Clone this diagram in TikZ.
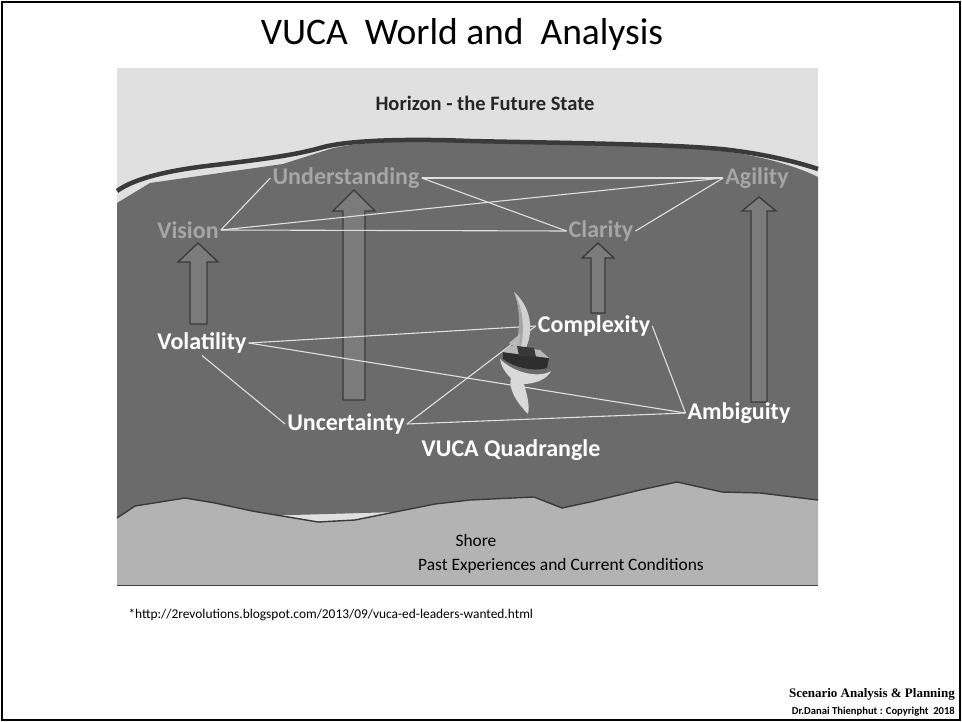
\documentclass[tikz,border=0pt]{standalone}
\usepackage{fontspec}
\setmainfont{Carlito}
\newfontfamily\serifbold[BoldFont={Liberation Serif Bold}]{Liberation Serif}
\usetikzlibrary{calc}
\definecolor{skygrey}{HTML}{E0E0E0}
\definecolor{seagrey}{HTML}{6B6B6B}
\definecolor{shoregrey}{HTML}{B3B3B3}
\definecolor{edgegrey}{HTML}{3A3A3A}
\definecolor{fadedtext}{HTML}{A6A6A6}
\definecolor{arrowfill}{HTML}{7B7B7B}
\begin{document}
\begin{tikzpicture}[x=1pt,y=-1pt,
  goal/.style={font=\bfseries\fontsize{24}{24}\selectfont, text=fadedtext, inner sep=2pt},
  force/.style={font=\bfseries\fontsize{24}{24}\selectfont, text=white, inner sep=2pt},
  link/.style={draw=white!88!black, line width=1.1pt},
  blockarrow/.style={draw=edgegrey, fill=arrowfill, line width=1.3pt, line join=miter},
  caption/.style={font=\fontsize{17.4}{17.4}\selectfont, text=black, inner sep=0pt}]
\useasboundingbox (0,0) rectangle (962,722);
\fill[white] (0,0) rectangle (962,722);
\draw[black, line width=2.5pt] (2,2) rectangle (960,720);

% title
\node[font=\fontsize{37.5}{37.5}\selectfont, anchor=base] (title) at (462,45) {VUCA\ \ World and\ \ Analysis};

% sky
\fill[skygrey] (117,68) rectangle (818,585);
\node[font=\bfseries\fontsize{20.5}{20.5}\selectfont, text=black!85] (horizon) at (485,103) {Horizon - the Future State};

% sea
\fill[seagrey] (117,203) -- (150,183) -- (283,164) -- (330,149)
  .. controls (360,141) and (420,140) .. (470,142)
  .. controls (560,144) and (680,145) .. (730,152)
  .. controls (770,158) and (800,168) .. (818,177)
  -- (818,500) -- (117,520) -- cycle;
% horizon line
\draw[edgegrey, line width=4.5pt] (117,191)
  .. controls (135,178) and (170,170) .. (215,165)
  .. controls (265,159) and (295,155) .. (320,148)
  .. controls (350,139) and (420,139) .. (470,141)
  .. controls (560,143) and (680,144) .. (730,150)
  .. controls (770,155) and (800,163) .. (818,169);

% shore
\fill[shoregrey] (117,518) -- (135,506) -- (185,498) -- (215,503) -- (252,511)
  -- (318,522) -- (355,520) -- (435,504) -- (470,500) -- (534,497) -- (562,508)
  -- (590,502) -- (640,490) -- (677,482) -- (722,492) -- (760,493) -- (818,500)
  -- (818,585) -- (117,585) -- cycle;
\draw[edgegrey, line width=1.4pt] (117,518) -- (135,506) -- (185,498) -- (215,503) -- (252,511)
  -- (318,522) -- (355,520) -- (435,504) -- (470,500) -- (534,497) -- (562,508)
  -- (590,502) -- (640,490) -- (677,482) -- (722,492) -- (760,493) -- (818,500);
\draw[edgegrey, line width=1pt] (117,585) -- (818,585);
\node[caption] (shore) at (476,541) {Shore};
\node[caption] (past) at (561,566) {Past Experiences and Current Conditions};

% upward block arrows
\draw[blockarrow] (198,243) -- (218,262) -- (207,262) -- (207,324) -- (190,324) -- (190,262) -- (178,262) -- cycle;
\draw[blockarrow] (354,190) -- (375,211) -- (365,211) -- (365,400) -- (343,400) -- (343,211) -- (333,211) -- cycle;
\draw[blockarrow] (598,243) -- (614,258) -- (605,258) -- (605,313) -- (591,313) -- (591,258) -- (582,258) -- cycle;
\draw[blockarrow] (759,197) -- (776,211) -- (767,211) -- (767,402) -- (751,402) -- (751,211) -- (742,211) -- cycle;

% goals near the horizon
\node[goal] (und) at (346,178) {Understanding};
\node[goal] (agi) at (757,178) {Agility};
\node[goal] (vis) at (188,230) {Vision};
\node[goal] (cla) at (601,231) {Clarity};

\draw[link] (vis.east) -- (und.west);
\draw[link] (vis.east) -- (agi.west);
\draw[link] (vis.east) -- (cla.west);
\draw[link] (und.east) -- (agi.west);
\draw[link] (und.east) -- (cla.west);
\draw[link] (cla.east) -- (agi.west);

% VUCA forces
\node[force] (vol) at (202,343) {Volatility};
\node[force] (unc) at (346,424) {Uncertainty};
\node[force] (com) at (594,326) {Complexity};
\node[force] (amb) at (739,413) {Ambiguity};
\node[force] (quad) at (511,450) {VUCA Quadrangle};

\draw[link] (vol.east) -- (com.west);
\draw[link] (vol.east) -- (amb.west);
\draw[link] (vol.south) -- (unc.west);
\draw[link] (unc.east) -- (com.west);
\draw[link] (unc.east) -- (amb.west);
\draw[link] (com.east) -- (amb.west);

% sailing boat: wake, sails, hull
\fill[white!85!black] (500,359) .. controls (515,374) and (540,378) .. (551,371)
  .. controls (547,380) and (533,384) .. (524,384)
  .. controls (527,395) and (530,405) .. (528,414)
  .. controls (516,402) and (508,388) .. (511,378)
  .. controls (505,373) and (501,366) .. cycle;
\fill[white!82!black] (514,292) .. controls (532,308) and (534,332) .. (525,350)
  -- (516,350) .. controls (520,330) and (521,308) .. cycle;
\fill[white!65!black] (516,350) .. controls (520,330) and (521,308) .. (514,292)
  .. controls (524,310) and (525,332) .. (520,350) -- cycle;
\fill[white!72!black] (509,343) -- (520,334) -- (519,350) -- cycle;
\fill[black!82] (503,352) -- (549,358) -- (547,368) .. controls (535,372) and (515,368) .. (503,359) -- cycle;
\fill[white!72!black] (502,352) -- (511,346) -- (540,350) -- (549,358) -- cycle;
\fill[black!78] (517,346) -- (534,348) -- (536,357) -- (519,356) -- cycle;

% source and footer
\node[font=\fontsize{13.4}{13.4}\selectfont, anchor=west] (src) at (125,615) {*http://2revolutions.blogspot.com/2013/09/vuca-ed-leaders-wanted.html};
\node[font=\serifbold\bfseries\fontsize{13}{13}\selectfont, anchor=base east, inner sep=0pt] (foot1) at (955,697) {Scenario Analysis \& Planning};
\node[font=\bfseries\fontsize{10.6}{10.6}\selectfont, anchor=base east, inner sep=0pt] (foot2) at (955,714) {Dr.Danai Thienphut : Copyright\ \ 2018};
\end{tikzpicture}
\end{document}
